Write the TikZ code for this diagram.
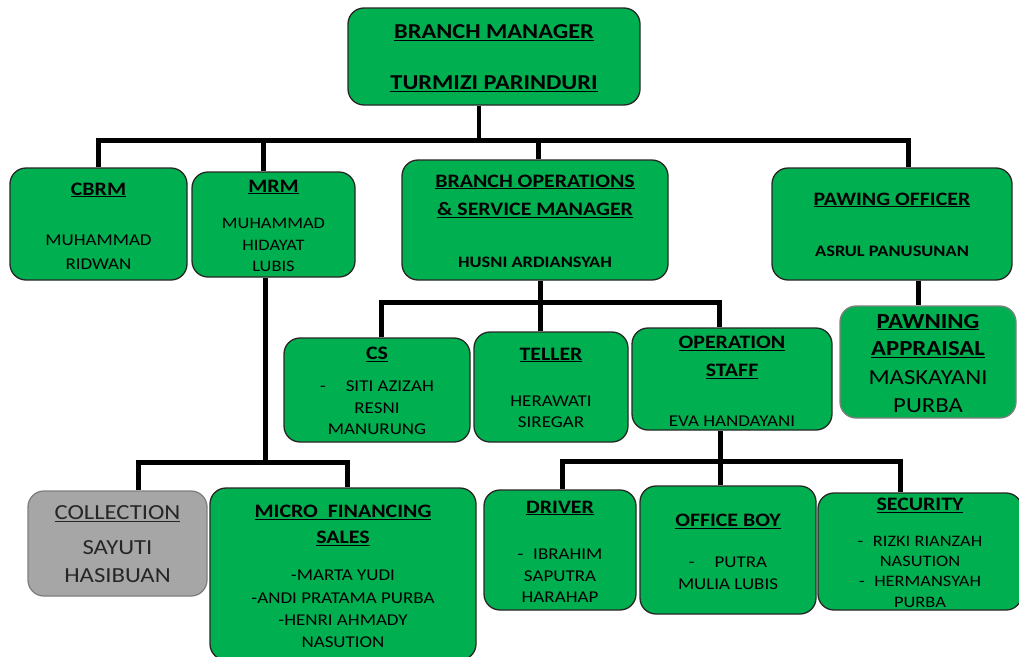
\documentclass[tikz,border=0pt]{standalone}
\usepackage{fontspec}
\setmainfont[FakeStretch=1.15]{Carlito}
\definecolor{bgreen}{HTML}{00B050}
\definecolor{cgray}{HTML}{A6A6A6}
\definecolor{bgray}{HTML}{7F7F7F}
\newcommand{\ttl}[1]{\underline{#1}}
\tikzset{
  box/.style={draw=black!85, line width=1.3pt, fill=bgreen, rounded corners=16pt, inner sep=0pt},
  graybox/.style={box, fill=cgray, draw=bgray},
  appbox/.style={box, draw=bgray},
  tt/.style={inner sep=0pt, align=center, font=\fontsize{19}{28}\selectfont\bfseries},
  bd/.style={inner sep=0pt, align=center, font=\fontsize{16.5}{21.5}\selectfont},
  bdb/.style={bd, font=\fontsize{16}{21.5}\selectfont\bfseries},
  conn/.style={line width=5pt},
}
\begin{document}
\begin{tikzpicture}[x=1pt,y=-1pt]
\useasboundingbox (0,0) rectangle (1019,656);
\clip (0,0) rectangle (1019,656);
% boxes
\node[box, minimum width=292pt, minimum height=97pt] (bm) at (494,56.5) {};
\node[box, minimum width=177pt, minimum height=112pt] (cbrm) at (98.5,224) {};
\node[box, minimum width=163pt, minimum height=105pt] (mrm) at (273.5,224.5) {};
\node[box, minimum width=266pt, minimum height=120pt] (bosm) at (535,220) {};
\node[box, minimum width=240pt, minimum height=112pt] (paw) at (892,224) {};
\node[box, minimum width=186pt, minimum height=104pt] (cs) at (377,390) {};
\node[box, minimum width=154pt, minimum height=110pt] (tel) at (551,387) {};
\node[box, minimum width=200pt, minimum height=102pt] (ops) at (732,379) {};
\node[appbox, minimum width=176pt, minimum height=112pt] (app) at (928,362) {};
\node[graybox, minimum width=179pt, minimum height=105pt] (col) at (117.5,543.5) {};
\node[box, minimum width=266pt, minimum height=172pt] (mfs) at (343,574) {};
\node[box, minimum width=152pt, minimum height=120pt] (drv) at (560,550) {};
\node[box, minimum width=176pt, minimum height=128pt] (ob) at (728,550) {};
\node[box, minimum width=204pt, minimum height=117pt] (sec) at (920,551.5) {};
% texts
\node[tt, font=\fontsize{21.2}{28}\selectfont\bfseries] (bm-t) at (494,33) {\ttl{BRANCH MANAGER}};
\node[tt, font=\fontsize{21.2}{28}\selectfont\bfseries] (bm-n) at (494,84) {\ttl{TURMIZI PARINDURI}};
\node[tt] (cbrm-t) at (98.5,190) {\ttl{CBRM}};
\node[bd] (cbrm-n) at (98.5,252) {MUHAMMAD\\[3pt]RIDWAN};
\node[tt] (mrm-t) at (273.5,187) {\ttl{MRM}};
\node[bd, font=\fontsize{16}{21.5}\selectfont] (mrm-n) at (273.5,245) {MUHAMMAD\\HIDAYAT\\LUBIS};
\node[tt] (bosm-t) at (535,196) {\ttl{BRANCH OPERATIONS}\\\ttl{\& SERVICE MANAGER}};
\node[bdb] (bosm-n) at (535,262) {HUSNI ARDIANSYAH};
\node[tt] (paw-t) at (892,200) {\ttl{PAWING OFFICER}};
\node[bdb] (paw-n) at (892,251) {ASRUL PANUSUNAN};
\node[tt] (cs-t) at (377,354) {\ttl{CS}};
\node[bd] (cs-n) at (377,408) {-\hspace{1.2em}SITI AZIZAH\\RESNI\\MANURUNG};
\node[tt] (tel-t) at (551,355) {\ttl{TELLER}};
\node[bd] (tel-n) at (551,412) {HERAWATI\\SIREGAR};
\node[tt] (ops-t) at (732,357) {\ttl{OPERATION}\\\ttl{STAFF}};
\node[bd] (ops-n) at (732,421) {EVA HANDAYANI};
\node[tt, font=\fontsize{21.5}{27.8}\selectfont\bfseries] (app-t) at (928,336) {\ttl{PAWNING}\\\ttl{APPRAISAL}};
\node[bd, font=\fontsize{21.5}{28}\selectfont] (app-n) at (928,392) {MASKAYANI\\PURBA};
\node[bd, font=\fontsize{21.5}{28}\selectfont, text=black!85] (col-t) at (117.5,514) {\ttl{COLLECTION}};
\node[bd, font=\fontsize{21.5}{28}\selectfont, text=black!85] (col-n) at (117.5,562) {SAYUTI\\HASIBUAN};
\node[tt] (mfs-t) at (343,525) {\ttl{MICRO\ \ FINANCING}\\[-2pt]\ttl{SALES}};
\node[bd] (mfs-n) at (343,609) {-MARTA YUDI\\[1pt]-ANDI PRATAMA PURBA\\[1pt]-HENRI AHMADY\\NASUTION};
\node[tt] (drv-t) at (560,508) {\ttl{DRIVER}};
\node[bd] (drv-n) at (560,576) {-\hspace{0.6em}IBRAHIM\\SAPUTRA\\HARAHAP};
\node[tt] (ob-t) at (728,521) {\ttl{OFFICE BOY}};
\node[bd] (ob-n) at (728,573.5) {-\hspace{1.2em}PUTRA\\MULIA LUBIS};
\node[tt] (sec-t) at (920,505) {\ttl{SECURITY}};
\node[bd, font=\fontsize{16}{20.3}\selectfont] (sec-n) at (920,571.5) {-\hspace{0.6em}RIZKI RIANZAH\\NASUTION\\-\hspace{0.6em}HERMANSYAH\\PURBA};
% connectors level 1
\coordinate (b1) at (479,140);
\draw[line width=4pt] ([xshift=-15pt]bm.south) -- (b1);
\coordinate (cbrmtop) at ([xshift=-0.5pt]cbrm.north);
\coordinate (mrmtop) at ([xshift=-10pt]mrm.north);
\coordinate (bosmtop) at ([xshift=3pt]bosm.north);
\coordinate (pawtop) at ([xshift=16pt]paw.north);
\draw[conn] (cbrmtop) |- (b1) -| (pawtop);
\draw[conn] (mrmtop) -- (mrmtop |- b1);
\draw[conn] (bosmtop) -- (bosmtop |- b1);
% BOSM -> CS, Teller, Ops
\coordinate (bosmbot) at ([xshift=5pt]bosm.south);
\coordinate (b2) at (540,302);
\coordinate (cstop) at ([xshift=4pt]cs.north);
\coordinate (teltop) at ([xshift=-11pt]tel.north);
\coordinate (opstop) at ([xshift=-13pt]ops.north);
\draw[conn] (bosmbot) -- (b2);
\draw[conn] (cstop) |- (b2) -| (opstop);
\draw[conn] (teltop) -- (teltop |- b2);
% Pawing -> Appraisal
\coordinate (pawbot) at ([xshift=26pt]paw.south);
\draw[conn] (pawbot) -- (pawbot |- app.north);
% MRM -> Collection, MFS
\coordinate (mrmbot) at ([xshift=-8.5pt]mrm.south);
\coordinate (b3) at (265,462);
\coordinate (coltop) at ([xshift=20.5pt]col.north);
\coordinate (mfstop) at ([xshift=4pt]mfs.north);
\draw[conn] (mrmbot) -- (b3);
\draw[conn] (coltop) |- (b3) -| (mfstop);
% Ops -> Driver, OB, Security
\coordinate (opsbot) at ([xshift=-12pt]ops.south);
\coordinate (b4) at (720,461);
\coordinate (drvtop) at ([xshift=2pt]drv.north);
\coordinate (obtop) at ([xshift=-8pt]ob.north);
\coordinate (sectop) at ([xshift=-20pt]sec.north);
\draw[conn] (opsbot) -- (b4);
\draw[conn] (drvtop) |- (b4) -| (sectop);
\draw[conn] (obtop) -- (obtop |- b4);
\end{tikzpicture}
\end{document}
